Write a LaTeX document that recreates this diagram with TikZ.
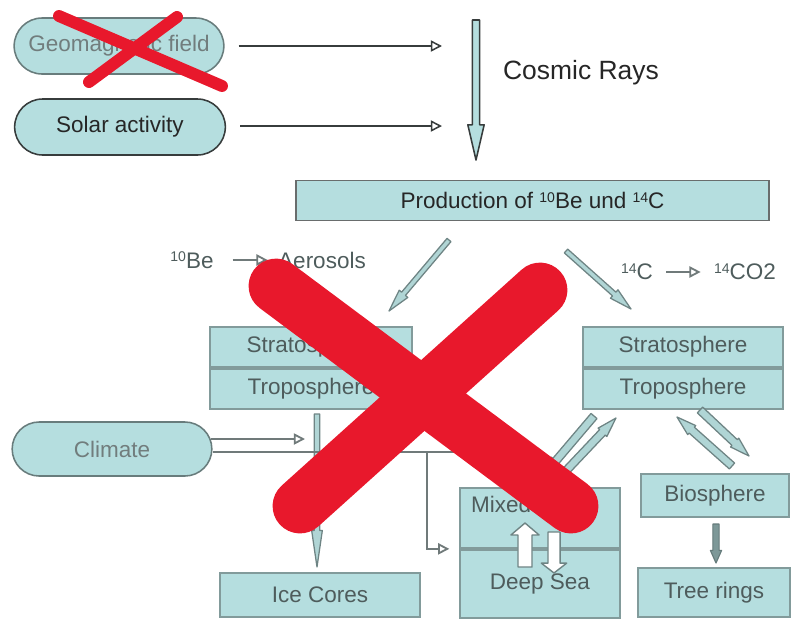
\documentclass[tikz,border=0pt]{standalone}
\usepackage{fontspec}
\setmainfont{Liberation Sans}
\usetikzlibrary{positioning, calc, arrows.meta, shapes.misc}

\definecolor{boxcyan}{RGB}{181,222,223}
\definecolor{darkline}{RGB}{55,60,60}
\definecolor{fadeline}{RGB}{130,155,155}
\definecolor{fadetext}{RGB}{78,92,92}
\definecolor{wiregray}{RGB}{112,122,122}
\definecolor{crossred}{RGB}{232,24,44}
\definecolor{biofill}{RGB}{125,152,152}

% small raised isotope numbers
\newcommand{\iso}[1]{\raisebox{4.6pt}{\fontsize{10}{10}\selectfont #1}}

% block arrow: [style]{from}{to}{shaft half width}{head half width}{head length}
\newcommand{\blockarrow}[6][]{%
  \path ($(#3)!#6!(#2)$) coordinate (ba-base);
  \filldraw[#1] ($(#2)!#4!90:(#3)$) -- ($(ba-base)!#4!90:(#3)$)
    -- ($(ba-base)!#5!90:(#3)$) -- (#3) -- ($(ba-base)!#5!-90:(#3)$)
    -- ($(ba-base)!#4!-90:(#3)$) -- ($(#2)!#4!-90:(#3)$) -- cycle;
}

\begin{document}
\begin{tikzpicture}[x=0.025cm, y=-0.025cm,
    font=\fontsize{16}{19}\selectfont,
    pill/.style={rounded rectangle, draw=darkline, line width=1.1pt, fill=boxcyan,
      text=black!85, minimum height=1.4cm, minimum width=5.5cm},
    fadepill/.style={pill, draw=fadeline!80!black, text=fadetext!80},
    topbox/.style={rectangle, draw=darkline!75, line width=1pt, fill=boxcyan,
      text=black!85, minimum height=1cm},
    fadebox/.style={rectangle, draw=fadeline, line width=1.2pt, fill=boxcyan, text=fadetext},
    openarrow/.style={-{Triangle[open, length=8pt, width=8pt]}},
    thinline/.style={draw=darkline, line width=1.1pt},
    graywire/.style={draw=wiregray, line width=1.3pt},
    topcyan/.style={fill=boxcyan, draw=darkline, line width=1.1pt, line join=round},
    cyanarrow/.style={fill=boxcyan!90!gray, draw=fadeline!85!black, line width=0.9pt, line join=round},
    darkcyan/.style={fill=biofill, draw=biofill!80!black, line width=0.8pt, line join=round},
    whitearrow/.style={fill=white, draw=fadeline!85!black, line width=1pt, line join=round},
    cross/.style={draw=crossred, line cap=round}
  ]

  \useasboundingbox (0,0) rectangle (796,620);

  % Inputs and cosmic rays
  \node[fadepill, minimum width=5.475cm] (geo) at (119,46) {Geomagnetic field};
  \node[pill] (solar) at (120,127) {Solar activity};
  \node[text=black!85] (cosmic) at (581,73) {\fontsize{18.8}{22}\selectfont Cosmic Rays};
  \node[topbox, minimum width=11.825cm] (prod) at (532.5,200.5)
    {Production of \iso{10}Be und \iso{14}C};

  \coordinate (cr-in1) at (442,46);
  \coordinate (cr-in2) at (442,126);
  \draw[thinline, openarrow, shorten <=10pt] (geo.east) -- (cr-in1);
  \draw[thinline, openarrow, shorten <=10pt] ([yshift=0.7pt]solar.east) -- (cr-in2);

  \coordinate (cr-top) at (476,20);
  \coordinate (cr-tip) at (476,160);
  \blockarrow[topcyan]{cr-top}{cr-tip}{2.6pt}{5.8pt}{25pt}

  % Isotope pathways
  \node[text=fadetext] (be) at (192,260) {\iso{10}Be};
  \node[text=fadetext] (aer) at (322,260) {Aerosols};
  \draw[graywire, openarrow, shorten <=10pt, shorten >=4pt] (be) -- (aer);
  \node[text=fadetext] (c14) at (637,272) {\iso{14}C};
  \node[text=fadetext] (co2) at (745,272) {\iso{14}CO2};
  \draw[graywire, openarrow, shorten <=6pt, shorten >=6pt] (c14) -- (co2);

  % Atmosphere stacks
  \node[fadebox, minimum width=5.05cm, minimum height=1cm] (lstrat) at (311,347) {Stratosphere};
  \node[fadebox, minimum width=5.05cm, minimum height=1cm, below=0pt of lstrat] (ltrop) {Troposphere};
  \node[fadebox, minimum width=5cm, minimum height=1cm] (rstrat) at (683,347) {Stratosphere};
  \node[fadebox, minimum width=5cm, minimum height=1cm, below=0pt of rstrat] (rtrop) {Troposphere};

  \coordinate (pl-a) at (449,240);
  \coordinate (pl-b) at (389,311);
  \coordinate (pr-a) at (566,251);
  \coordinate (pr-b) at (631,309);
  \blockarrow[cyanarrow]{pl-a}{pl-b}{1.8pt}{4pt}{16pt}
  \blockarrow[cyanarrow]{pr-a}{pr-b}{1.8pt}{4pt}{16pt}

  % Archives
  \node[fadepill, minimum width=5.225cm, minimum height=1.35cm] (clim) at (112,449) {Climate};
  \node[fadebox, minimum width=5cm, minimum height=1.1cm] (ice) at (320,595) {Ice Cores};
  \node[fadebox, minimum width=4cm, minimum height=1.5cm,
    label={[text=fadetext, anchor=north west, xshift=5pt, yshift=-3pt]north west:Mixed Layer}]
    (mixed) at (540,518) {};
  \node[fadebox, minimum width=4cm, minimum height=1.7cm, below=0pt of mixed] (deep) {Deep Sea};
  \node[fadebox, minimum width=3.7cm, minimum height=1.075cm] (bio) at (715,495.5) {Biosphere};
  \node[fadebox, minimum width=3.8cm, minimum height=1.225cm] (tree) at (714,592.5) {Tree rings};

  \coordinate (ic-a) at (317,414);
  \coordinate (ic-b) at (317,567);
  \blockarrow[cyanarrow]{ic-a}{ic-b}{2pt}{3.8pt}{26pt}

  % Climate influence
  \coordinate (cl-tip) at (305,439);
  \coordinate (cl-end) at (480,452);
  \coordinate (cl-branch) at (427,452);
  \draw[graywire, openarrow] ($(clim.east)+(-2,-10)$) -- (cl-tip);
  \draw[graywire] ($(clim.east)+(0,3)$) -- (cl-end);
  \draw[graywire, openarrow] (cl-branch) |- ([xshift=-7pt]deep.north west);

  % Exchange with the ocean and the biosphere
  \coordinate (ex-a0) at (594,416);
  \coordinate (ex-a1) at (543,476);
  \coordinate (ex-b0) at (563,474);
  \coordinate (ex-b1) at (616,418);
  \blockarrow[cyanarrow]{ex-a0}{ex-a1}{2.8pt}{4.3pt}{14pt}
  \blockarrow[cyanarrow]{ex-b0}{ex-b1}{2.8pt}{4.3pt}{14pt}

  \coordinate (bx-a0) at (732,466);
  \coordinate (bx-a1) at (677,417);
  \coordinate (bx-b0) at (700,410);
  \coordinate (bx-b1) at (749,456);
  \blockarrow[cyanarrow]{bx-a0}{bx-a1}{2.8pt}{4.3pt}{14pt}
  \blockarrow[cyanarrow]{bx-b0}{bx-b1}{2.8pt}{4.3pt}{14pt}

  \coordinate (bt-a) at (716,524);
  \coordinate (bt-b) at (716,563);
  \blockarrow[darkcyan]{bt-a}{bt-b}{2.2pt}{4pt}{9pt}

  \coordinate (up-a) at (525,567);
  \coordinate (up-b) at (525,523);
  \coordinate (dn-a) at (554,532);
  \coordinate (dn-b) at (554,573);
  \blockarrow[whitearrow]{up-a}{up-b}{5pt}{10pt}{8.5pt}
  \blockarrow[whitearrow]{dn-a}{dn-b}{4.3pt}{9pt}{7pt}

  % Crossed out
  \draw[cross, line width=8.5pt] (59,16) -- (222,86);
  \draw[cross, line width=8.5pt] (177,17) -- (89,82);
  \draw[cross, line width=39pt] (276,286) -- (571,506);
  \draw[cross, line width=39pt] (540,290) -- (300,506);

\end{tikzpicture}
\end{document}
